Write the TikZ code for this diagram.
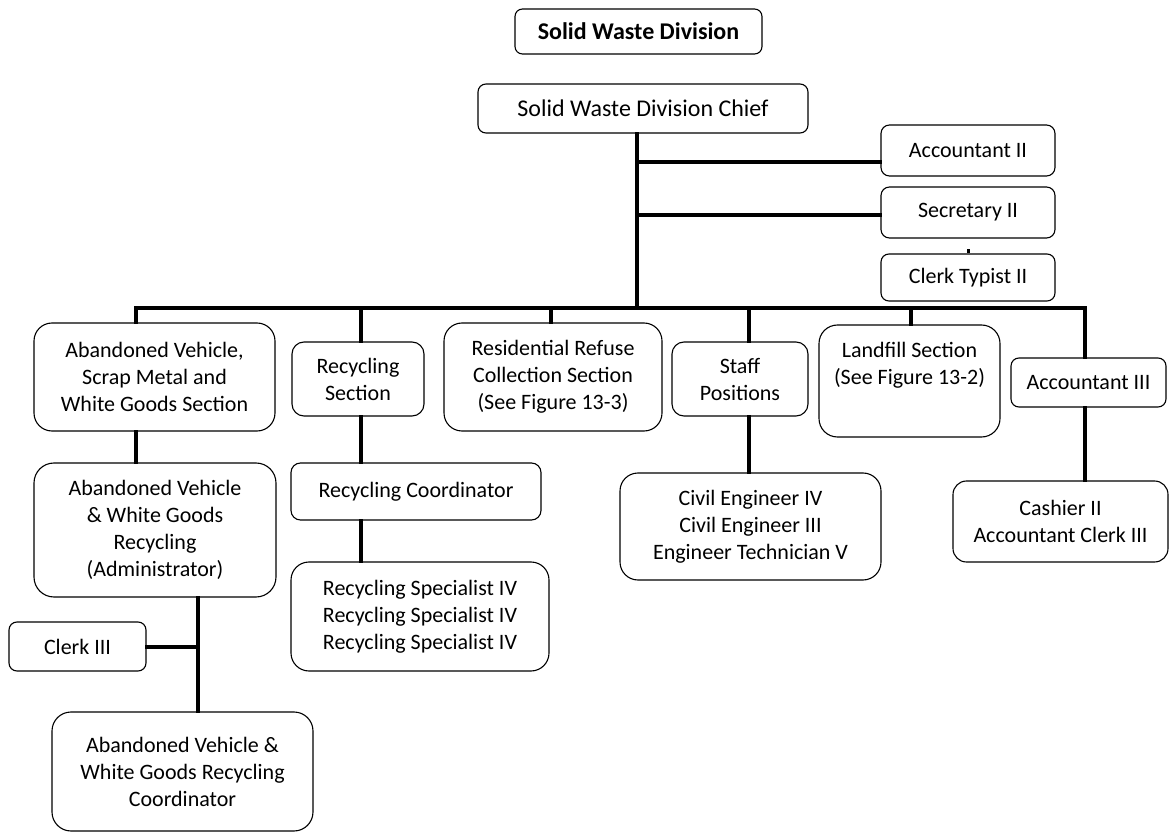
\documentclass[tikz,border=0pt]{standalone}
\usepackage{fontspec}
\setmainfont{Carlito}
\usetikzlibrary{calc}

\tikzset{
  box/.style={draw, line width=1.1pt, fill=white, align=center, inner sep=0pt,
    font=\fontsize{22}{27}\selectfont},
  link/.style={line width=4pt, line join=miter, line cap=rect},
}

\begin{document}
\begin{tikzpicture}[x=1pt, y=-1pt]
  \fill[white] (0,0) rectangle (1171,834);
  \useasboundingbox (0,0) rectangle (1171,834);

  % heading and chief
  \node[box, rounded corners=7.5pt, minimum width=247pt, minimum height=45pt,
        font=\fontsize{24}{29}\selectfont\bfseries] (title) at (638.5,31.5) {Solid Waste Division};
  \node[box, rounded corners=8pt, minimum width=330pt, minimum height=49pt,
        font=\fontsize{24}{29}\selectfont] (chief) at (643,108.5) {Solid Waste Division Chief};

  % staff boxes on the right of the trunk
  \node[box, rounded corners=8.5pt, minimum width=174pt, minimum height=51pt] (acc2) at (968,150.5) {Accountant II};
  \node[box, rounded corners=8.5pt, minimum width=174pt, minimum height=51pt] (sec2) at (968,212.5) {Secretary II};
  \node[box, rounded corners=8pt, minimum width=174pt, minimum height=47pt] (typist) at (968,277.5) {Clerk Typist II};

  % sections
  \node[box, rounded corners=18pt, minimum width=241pt, minimum height=108pt] (avsec) at (154.5,377)
    {Abandoned Vehicle,\\Scrap Metal and\\White Goods Section};
  \node[box, rounded corners=12pt, minimum width=132pt, minimum height=74pt] (recsec) at (358,379)
    {Recycling\\Section};
  \node[box, rounded corners=18pt, minimum width=218pt, minimum height=108pt] (resref) at (553,377)
    {Residential Refuse\\Collection Section\\(See Figure 13-3)};
  \node[box, rounded corners=12pt, minimum width=136pt, minimum height=74pt] (staff) at (740,379)
    {Staff\\Positions};
  \node[box, rounded corners=18.5pt, minimum width=181pt, minimum height=112pt] (landfill) at (909.5,381)
    {Landfill Section\\(See Figure 13-2)\\\strut};
  \node[box, rounded corners=8pt, minimum width=155pt, minimum height=49pt] (acc3) at (1088.5,382.5)
    {Accountant III};

  % lower levels
  \node[box, rounded corners=20pt, minimum width=242pt, minimum height=134pt] (admin) at (155,530)
    {Abandoned Vehicle\\\& White Goods\\Recycling\\(Administrator)};
  \node[box, rounded corners=8pt, minimum width=137pt, minimum height=49pt] (clerk3) at (77.5,646.5)
    {Clerk III};
  \node[box, rounded corners=19pt, minimum width=261pt, minimum height=119pt] (avcoord) at (182.5,771.5)
    {Abandoned Vehicle \&\\White Goods Recycling\\Coordinator};
  \node[box, rounded corners=9.5pt, minimum width=250pt, minimum height=57pt] (reccoord) at (416,491.5)
    {Recycling Coordinator};
  \node[box, rounded corners=18pt, minimum width=258pt, minimum height=109pt] (spec) at (420,616.5)
    {Recycling Specialist IV\\Recycling Specialist IV\\Recycling Specialist IV};
  \node[box, rounded corners=18pt, minimum width=261pt, minimum height=107pt] (civil) at (750.5,526.5)
    {Civil Engineer IV\\Civil Engineer III\\Engineer Technician V};
  \node[box, rounded corners=13.5pt, minimum width=215pt, minimum height=81pt] (cashier) at (1060.5,521.5)
    {Cashier II\\Accountant Clerk III};

  % junction points
  \coordinate (trunk) at (637,308);
  \coordinate (busL) at (136,308);
  \coordinate (busR) at (1085,308);
  \coordinate (acc2in) at ($(acc2.west)+(0,11.5)$);
  \coordinate (sec2in) at ($(sec2.west)+(0,2.5)$);
  \coordinate (typtop) at ($(typist.north)+(0,-4)$);
  \coordinate (avx) at (198,0);
  \coordinate (recx) at (361,0);
  \coordinate (resx) at (551,0);
  \coordinate (stafx) at (749,0);
  \coordinate (landx) at (911,0);

  % trunk, staff lines and main bus
  \draw[link] (trunk |- chief.south) -- (trunk);
  \draw[link] (trunk |- acc2in) -- (acc2in);
  \draw[link] (trunk |- sec2in) -- (sec2in);
  \draw[line width=3pt] (typtop) -- (typist.north);
  \draw[link] (busL |- avsec.north) -- (busL) -- (busR) -- (busR |- acc3.north);
  \draw[link] (recx |- busL) -- (recx |- recsec.north);
  \draw[link] (resx |- busL) -- (resx |- resref.north);
  \draw[link] (stafx |- busL) -- (stafx |- staff.north);
  \draw[link] (landx |- busL) -- (landx |- landfill.north);

  % branches below the sections
  \draw[link] (busL |- avsec.south) -- (busL |- admin.north);
  \draw[link] (avx |- admin.south) -- (avx |- avcoord.north);
  \draw[link] (clerk3.east) -- (avx |- clerk3.east);
  \draw[link] (recx |- recsec.south) -- (recx |- reccoord.north);
  \draw[link] (recx |- reccoord.south) -- (recx |- spec.north);
  \draw[link] (stafx |- staff.south) -- (stafx |- civil.north);
  \draw[link] (busR |- acc3.south) -- (busR |- cashier.north);
\end{tikzpicture}
\end{document}
